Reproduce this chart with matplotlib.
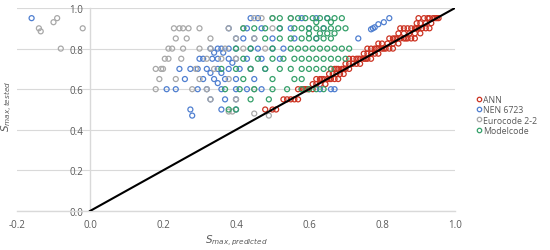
import matplotlib
matplotlib.use("Agg")
import matplotlib.pyplot as plt
from matplotlib.lines import Line2D

# ---------------- data ----------------
ann_pred = [0.90, 0.915, 0.93, 0.94, 0.95, 0.955, 0.925, 0.945,
            0.905, 0.92, 0.935, 0.895,
            0.85, 0.87, 0.88, 0.89, 0.90, 0.91, 0.92, 0.93, 0.86, 0.895,
            0.86, 0.875, 0.89, 0.845, 0.905,
            0.82, 0.83, 0.84, 0.85, 0.86, 0.87, 0.88, 0.89, 0.835, 0.865,
            0.80, 0.815, 0.83, 0.845, 0.79,
            0.76, 0.77, 0.78, 0.79, 0.80, 0.81, 0.82, 0.83, 0.785, 0.805,
            0.75, 0.77, 0.79, 0.76, 0.78,
            0.71, 0.72, 0.73, 0.74, 0.75, 0.76, 0.77, 0.735, 0.755,
            0.70, 0.72, 0.74, 0.71, 0.73,
            0.66, 0.67, 0.68, 0.69, 0.70, 0.71, 0.675, 0.695,
            0.655, 0.675, 0.695, 0.665, 0.685,
            0.62, 0.63, 0.64, 0.65, 0.66, 0.67, 0.68, 0.635, 0.655,
            0.61, 0.63, 0.645, 0.62,
            0.57, 0.58, 0.59, 0.60, 0.61, 0.585, 0.595,
            0.53, 0.55, 0.56, 0.57, 0.54,
            0.48, 0.50, 0.51]
ann_test = [0.95, 0.95, 0.95, 0.95, 0.95, 0.95, 0.95, 0.95,
            0.925, 0.925, 0.925, 0.925,
            0.90, 0.90, 0.90, 0.90, 0.90, 0.90, 0.90, 0.90, 0.90, 0.90,
            0.875, 0.875, 0.875, 0.875, 0.875,
            0.85, 0.85, 0.85, 0.85, 0.85, 0.85, 0.85, 0.85, 0.85, 0.85,
            0.825, 0.825, 0.825, 0.825, 0.825,
            0.80, 0.80, 0.80, 0.80, 0.80, 0.80, 0.80, 0.80, 0.80, 0.80,
            0.775, 0.775, 0.775, 0.775, 0.775,
            0.75, 0.75, 0.75, 0.75, 0.75, 0.75, 0.75, 0.75, 0.75,
            0.725, 0.725, 0.725, 0.725, 0.725,
            0.70, 0.70, 0.70, 0.70, 0.70, 0.70, 0.70, 0.70,
            0.675, 0.675, 0.675, 0.675, 0.675,
            0.65, 0.65, 0.65, 0.65, 0.65, 0.65, 0.65, 0.65, 0.65,
            0.625, 0.625, 0.625, 0.625,
            0.60, 0.60, 0.60, 0.60, 0.60, 0.60, 0.60,
            0.55, 0.55, 0.55, 0.55, 0.55,
            0.50, 0.50, 0.50]

nen_pred = [-0.16,
            0.44, 0.46, 0.58, 0.62, 0.65, 0.82,
            0.805, 0.79, 0.78, 0.775, 0.77,
            0.38, 0.43, 0.47, 0.52, 0.55, 0.60, 0.64,
            0.40, 0.42, 0.45, 0.50, 0.56, 0.62, 0.735,
            0.33, 0.35, 0.36, 0.38, 0.40, 0.44, 0.46, 0.50, 0.53, 0.34, 0.365,
            0.30, 0.31, 0.335, 0.35, 0.38, 0.40, 0.43, 0.47, 0.52, 0.39,
            0.245, 0.275, 0.295, 0.32, 0.35, 0.38, 0.41, 0.44, 0.48, 0.33, 0.36,
            0.26, 0.31, 0.34, 0.37, 0.40, 0.45, 0.35,
            0.21, 0.235, 0.295, 0.32, 0.36, 0.40, 0.43, 0.47, 0.63, 0.66, 0.67,
            0.33, 0.37, 0.40,
            0.275, 0.36, 0.40,
            0.28]
nen_test = [0.95,
            0.95, 0.95, 0.95, 0.95, 0.95, 0.95,
            0.93, 0.92, 0.905, 0.90, 0.895,
            0.90, 0.90, 0.90, 0.90, 0.90, 0.90, 0.90,
            0.85, 0.85, 0.85, 0.85, 0.85, 0.85, 0.85,
            0.80, 0.80, 0.80, 0.80, 0.80, 0.80, 0.80, 0.80, 0.80, 0.78, 0.78,
            0.75, 0.75, 0.75, 0.75, 0.75, 0.75, 0.75, 0.75, 0.75, 0.73,
            0.70, 0.70, 0.70, 0.70, 0.70, 0.70, 0.70, 0.70, 0.70, 0.68, 0.68,
            0.65, 0.65, 0.65, 0.65, 0.65, 0.65, 0.63,
            0.60, 0.60, 0.60, 0.60, 0.60, 0.60, 0.60, 0.60, 0.60, 0.60, 0.60,
            0.55, 0.55, 0.55,
            0.50, 0.50, 0.50,
            0.47]

euro_pred = [-0.14, -0.135, -0.10, -0.09, -0.02, -0.08,
             0.45, 0.47, 0.50, 0.55,
             0.23, 0.245, 0.255, 0.27, 0.30, 0.38, 0.42, 0.50,
             0.235, 0.265, 0.33, 0.40, 0.45,
             0.215, 0.225, 0.255, 0.30, 0.33, 0.37, 0.42, 0.48,
             0.205, 0.215, 0.25, 0.32, 0.36, 0.40,
             0.18, 0.195, 0.20, 0.29, 0.34, 0.44,
             0.19, 0.235, 0.30, 0.38,
             0.18, 0.28, 0.32, 0.45,
             0.33, 0.40,
             0.38, 0.39, 0.45, 0.49]
euro_test = [0.90, 0.885, 0.93, 0.95, 0.90, 0.80,
             0.95, 0.95, 0.95, 0.95,
             0.90, 0.90, 0.90, 0.90, 0.90, 0.90, 0.90, 0.90,
             0.85, 0.85, 0.85, 0.85, 0.85,
             0.80, 0.80, 0.80, 0.80, 0.80, 0.80, 0.80, 0.80,
             0.75, 0.75, 0.75, 0.75, 0.75, 0.75,
             0.70, 0.70, 0.70, 0.70, 0.70, 0.70,
             0.65, 0.65, 0.65, 0.65,
             0.60, 0.60, 0.60, 0.60,
             0.55, 0.55,
             0.49, 0.49, 0.48, 0.47]

model_pred = [0.50, 0.52, 0.55, 0.57, 0.59, 0.61, 0.63, 0.65, 0.67, 0.69,
              0.62, 0.66,
              0.42, 0.45, 0.48, 0.52, 0.56, 0.58, 0.60, 0.62, 0.64, 0.66, 0.68, 0.70,
              0.60, 0.63, 0.65, 0.67,
              0.48, 0.52, 0.55, 0.58, 0.60, 0.62, 0.64, 0.66,
              0.40, 0.44, 0.50, 0.55, 0.57, 0.59, 0.61, 0.63, 0.65, 0.67, 0.69, 0.71,
              0.42, 0.46, 0.50, 0.53, 0.56, 0.58, 0.60, 0.62, 0.64, 0.66, 0.68, 0.70,
              0.36, 0.40, 0.44, 0.48, 0.52, 0.55, 0.58, 0.60, 0.62, 0.64, 0.66,
              0.42, 0.50, 0.56, 0.58,
              0.37, 0.41, 0.45, 0.50, 0.54, 0.58, 0.60, 0.62, 0.64,
              0.44, 0.49,
              0.38, 0.40]
model_test = [0.95, 0.95, 0.95, 0.95, 0.95, 0.95, 0.95, 0.95, 0.95, 0.95,
              0.93, 0.93,
              0.90, 0.90, 0.90, 0.90, 0.90, 0.90, 0.90, 0.90, 0.90, 0.90, 0.90, 0.90,
              0.875, 0.875, 0.875, 0.875,
              0.85, 0.85, 0.85, 0.85, 0.85, 0.85, 0.85, 0.85,
              0.80, 0.80, 0.80, 0.80, 0.80, 0.80, 0.80, 0.80, 0.80, 0.80, 0.80, 0.80,
              0.75, 0.75, 0.75, 0.75, 0.75, 0.75, 0.75, 0.75, 0.75, 0.75, 0.75, 0.75,
              0.70, 0.70, 0.70, 0.70, 0.70, 0.70, 0.70, 0.70, 0.70, 0.70, 0.70,
              0.65, 0.65, 0.65, 0.65,
              0.60, 0.60, 0.60, 0.60, 0.60, 0.60, 0.60, 0.60, 0.60,
              0.55, 0.55,
              0.50, 0.50]

series_names = ["ANN", "NEN 6723", "Eurocode 2-2", "Modelcode"]
x_ticks = [-0.2, 0.0, 0.2, 0.4, 0.6, 0.8, 1.0]
y_ticks = [0.0, 0.2, 0.4, 0.6, 0.8, 1.0]
line_ends = [0.0, 1.0]

# ---------------- styling ----------------
colors = ["#CC3322", "#4F7FD0", "#A8A8A8", "#35A06A"]
tick_color = "#595959"
grid_color = "#D9D9D9"

plt.rcParams['font.family'] = ['Open Sans', 'DejaVu Sans']

fig = plt.figure(figsize=(5.5, 2.51), dpi=100)
ax = fig.add_axes([17/550, 1 - 212/251, (455 - 17)/550, (212 - 9)/251])

data = [(ann_pred, ann_test), (nen_pred, nen_test),
        (euro_pred, euro_test), (model_pred, model_test)]
for (xs, ys), c, name in zip(data, colors, series_names):
    ax.scatter(xs, ys, s=13, facecolors='none', edgecolors=c,
               linewidths=0.9, label=name, zorder=3)

ax.plot(line_ends, line_ends, color='black', lw=1.5, zorder=4)

ax.set_xlim(-0.2, 1.0)
ax.set_ylim(0.0, 1.0)
ax.set_xticks(x_ticks)
ax.set_yticks(y_ticks)
ax.set_xticklabels([f"{v:.1f}" for v in x_ticks])
ax.set_yticklabels([f"{v:.1f}" for v in y_ticks])
ax.tick_params(length=0, labelsize=7, colors=tick_color)
ax.tick_params(axis='x', pad=6)
ax.tick_params(axis='y', pad=5)

for s in ['top', 'right']:
    ax.spines[s].set_visible(False)
ax.spines['left'].set_position(('data', 0))
ax.spines['left'].set_color(grid_color)
ax.spines['bottom'].set_color(grid_color)
ax.spines['left'].set_linewidth(1.0)
ax.spines['bottom'].set_linewidth(1.0)
ax.yaxis.grid(True, color=grid_color, lw=0.8, zorder=0)
ax.set_axisbelow(True)

ax.set_ylabel(r'$S_{max,tested}$', fontsize=7.5, color=tick_color)
ax.yaxis.set_label_coords(-0.005, 0.52)
ax.set_xlabel(r'$S_{max,predicted}$', fontsize=7.5, color=tick_color)
ax.xaxis.set_label_coords(0.5, -0.105)

handles = [Line2D([], [], marker='o', ls='none', markersize=3.2,
                  markerfacecolor='none', markeredgecolor=c, markeredgewidth=0.9)
           for c in colors]
leg = fig.legend(handles, series_names, loc='center left',
                 bbox_to_anchor=(472/550, 1 - 116/251), frameon=False,
                 fontsize=6.3, handlelength=0.6, handletextpad=0.2,
                 labelspacing=0.12, borderpad=0)
for t in leg.get_texts():
    t.set_color(tick_color)

fig.savefig("out.png", dpi=100)
